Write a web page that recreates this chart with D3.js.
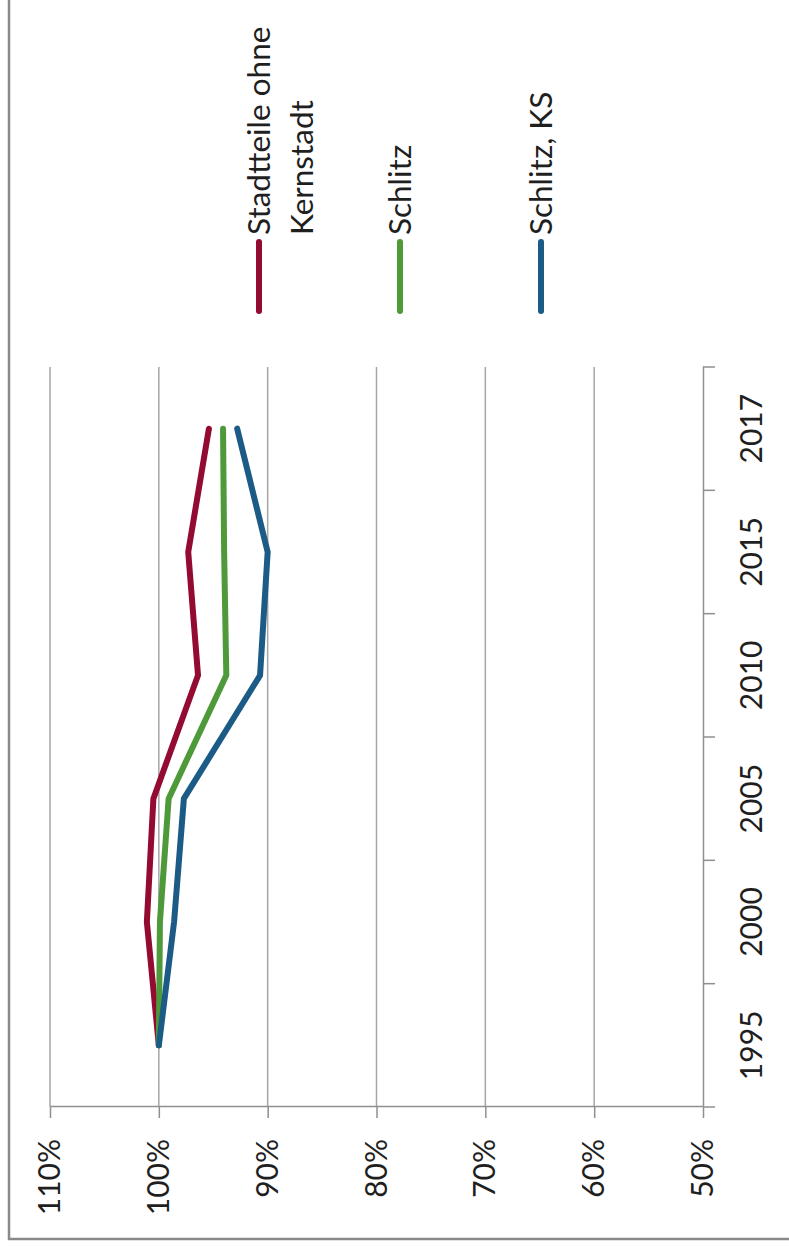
<!DOCTYPE html>
<html>
<head>
<meta charset="utf-8">
<script src="https://cdn.jsdelivr.net/npm/d3@7"></script>
<style>
  body { margin: 0; background: #fff; }
  text { font-family: Lato, "Open Sans", sans-serif; fill: #1f1f1f; }
</style>
</head>
<body>
<div id="chart"></div>
<script>
// Data
var years = ["1995", "2000", "2005", "2010", "2015", "2017"];
var stadtteile = [1.000, 1.011, 1.005, 0.964, 0.973, 0.954];
var schlitz = [1.000, 0.999, 0.991, 0.938, 0.940, 0.941];
var schlitzKS = [1.000, 0.986, 0.977, 0.907, 0.900, 0.928];
var seriesNames = [["Stadtteile ohne", "Kernstadt"], ["Schlitz"], ["Schlitz, KS"]];
var seriesColors = ["#930b31", "#4e9a3b", "#1c5b86"];
var percentTicks = [0.5, 0.6, 0.7, 0.8, 0.9, 1.0, 1.1];

var svgWidth = 789;
var svgHeight = 1252;

var svg = d3.select("#chart")
  .append("svg")
  .attr("width", svgWidth)
  .attr("height", svgHeight);

// outer frame
svg.append("rect")
  .attr("x", 9).attr("y", -10)
  .attr("width", 800).attr("height", 1249)
  .attr("fill", "none")
  .attr("stroke", "#8a8a8a")
  .attr("stroke-width", 2.5);

// whole chart is drawn upright and turned 90 degrees counter-clockwise
var g = svg.append("g")
  .attr("transform", `translate(0, ${svgHeight}) rotate(-90)`);

// Scales
var xScale = d3.scaleBand()
  .domain(years)
  .range([145, 885]);

var yScale = d3.scaleLinear()
  .domain([0.5, 1.1])
  .range([703, 50]);

// gridlines
g.append("g")
  .selectAll("line")
  .data(percentTicks.slice(1))
  .enter()
  .append("line")
  .attr("x1", 145)
  .attr("x2", 885)
  .attr("y1", d => yScale(d))
  .attr("y2", d => yScale(d))
  .attr("stroke", "#a6a6a6")
  .attr("stroke-width", 1.5);

// value axis
var leftAxis = d3.axisLeft(yScale)
  .tickValues(percentTicks)
  .tickFormat(d3.format(".0%"))
  .tickSize(11)
  .tickSizeOuter(0)
  .tickPadding(21);

var yAxisG = g.append("g")
  .attr("transform", "translate(145, 0)")
  .call(leftAxis);
yAxisG.selectAll("text").style("font-size", "30px").attr("fill", "#1f1f1f");
yAxisG.selectAll("line, path").attr("stroke", "#8f8f8f").attr("stroke-width", 1.5);

// category axis (labels centred, ticks between categories)
var bottomAxis = d3.axisBottom(xScale)
  .tickSize(0)
  .tickSizeOuter(0)
  .tickPadding(38);

var xAxisG = g.append("g")
  .attr("transform", "translate(0, 703)")
  .call(bottomAxis);
xAxisG.selectAll("text").style("font-size", "30px").attr("fill", "#1f1f1f");
xAxisG.select("path").attr("stroke", "#8f8f8f").attr("stroke-width", 1.5);

var bounds = years.map(d => xScale(d)).concat([xScale.range()[1]]);
xAxisG.selectAll(".boundTick")
  .data(bounds)
  .enter()
  .append("line")
  .attr("class", "boundTick")
  .attr("x1", d => d)
  .attr("x2", d => d)
  .attr("y1", 0)
  .attr("y2", 12)
  .attr("stroke", "#8f8f8f")
  .attr("stroke-width", 1.5);

// lines
var allSeries = [stadtteile, schlitz, schlitzKS];
var line = d3.line()
  .x((d, i) => xScale(years[i]) + xScale.bandwidth() / 2)
  .y(d => yScale(d));

g.append("g")
  .selectAll("path")
  .data(allSeries)
  .enter()
  .append("path")
  .attr("d", d => line(d))
  .attr("fill", "none")
  .attr("stroke", (d, i) => seriesColors[i])
  .attr("stroke-width", 6)
  .attr("stroke-linejoin", "round")
  .attr("stroke-linecap", "round");

// legend
var legendY = [259, 400, 541];
var legend = g.append("g")
  .selectAll("g")
  .data(seriesNames)
  .enter()
  .append("g")
  .attr("transform", (d, i) => `translate(0, ${legendY[i]})`);

legend.append("line")
  .attr("x1", 941)
  .attr("x2", 1010)
  .attr("y1", 0)
  .attr("y2", 0)
  .attr("stroke", (d, i) => seriesColors[i])
  .attr("stroke-width", 6)
  .attr("stroke-linecap", "round");

legend.selectAll("text")
  .data(d => d)
  .enter()
  .append("text")
  .attr("x", 1017)
  .attr("y", (d, j) => 11 + j * 43)
  .style("font-size", "31.5px")
  .text(d => d);
</script>
</body>
</html>
